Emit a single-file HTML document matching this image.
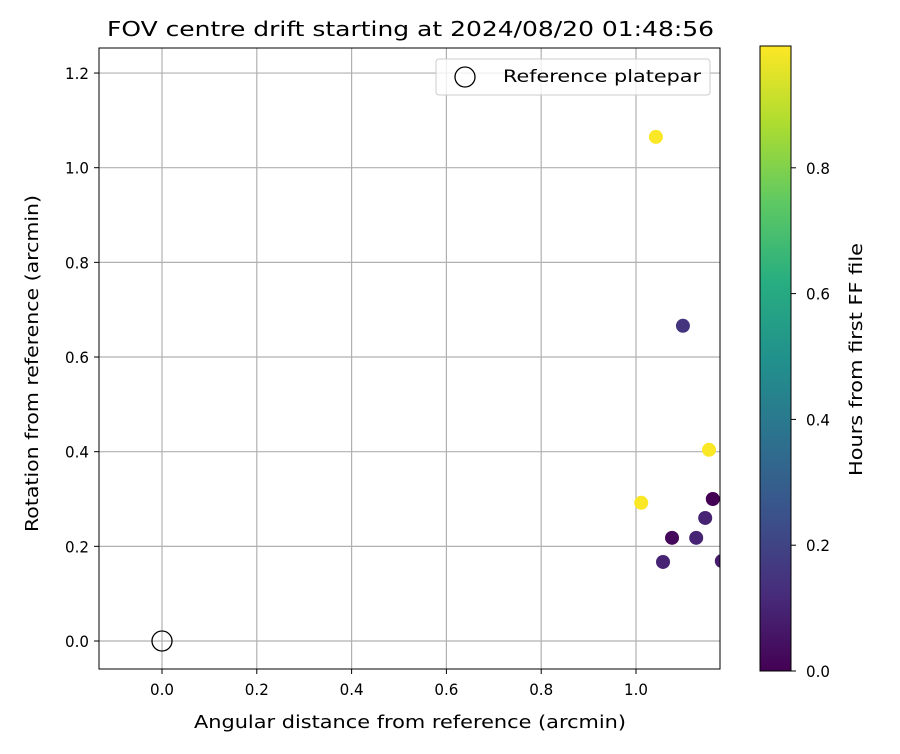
<!DOCTYPE html>
<html><head><meta charset="utf-8"><style>
body{margin:0;background:#fff;font-family:"DejaVu Sans","Liberation Sans",sans-serif}
</style></head><body>
<svg id="chart" width="900" height="750" xmlns="http://www.w3.org/2000/svg" font-family="DejaVu Sans, Liberation Sans, sans-serif">
<defs>
<linearGradient id="vir" x1="0" y1="1" x2="0" y2="0">
<stop offset="0" stop-color="#440154"/><stop offset="0.125" stop-color="#472d7b"/><stop offset="0.25" stop-color="#3b528b"/><stop offset="0.375" stop-color="#2c728e"/><stop offset="0.5" stop-color="#21918c"/><stop offset="0.625" stop-color="#28ae80"/><stop offset="0.75" stop-color="#5ec962"/><stop offset="0.875" stop-color="#addc30"/><stop offset="1" stop-color="#fde725"/>
</linearGradient>
<clipPath id="pc"><rect x="99" y="48" width="621" height="621"/></clipPath>
</defs>
<text x="107" y="36" font-size="20" textLength="607" lengthAdjust="spacingAndGlyphs">FOV centre drift starting at 2024/08/20 01:48:56</text>
<g id="grid"></g>
<g id="points" clip-path="url(#pc)"></g>
<rect x="99" y="48" width="621" height="621" fill="none" stroke="#000" stroke-width="1"/>
<g id="ticks" font-size="16"></g>
<text x="194" y="728" font-size="18" textLength="432" lengthAdjust="spacingAndGlyphs">Angular distance from reference (arcmin)</text>
<text transform="translate(38,532) rotate(-90)" font-size="18" textLength="337" lengthAdjust="spacingAndGlyphs">Rotation from reference (arcmin)</text>
<g>
<rect x="436" y="59" width="274" height="36" rx="3" fill="#fff" fill-opacity="0.8" stroke="#ccc"/>
<circle cx="465" cy="77" r="10" fill="none" stroke="#000" stroke-width="1.3"/>
<text x="503" y="82" font-size="17" textLength="198" lengthAdjust="spacingAndGlyphs">Reference platepar</text>
</g>
<rect x="760" y="46" width="31" height="625" fill="url(#vir)" stroke="#000"/>
<g id="cticks" font-size="16"></g>
<text transform="translate(862,476) rotate(-90)" font-size="18" textLength="233" lengthAdjust="spacingAndGlyphs">Hours from first FF file</text>
</svg>
<script>
const xs=[1.042,1.099,1.154,1.011,1.162,1.146,1.076,1.127,1.057,1.181];
const ys=[1.065,0.666,0.404,0.292,0.300,0.260,0.218,0.218,0.167,0.169];
const hours=[0.99,0.15,0.99,0.99,0.0,0.1,0.02,0.1,0.1,0.08];
const xTicks=["0.0","0.2","0.4","0.6","0.8","1.0"];
const yTicks=["0.0","0.2","0.4","0.6","0.8","1.0","1.2"];
const cTicks=["0.0","0.2","0.4","0.6","0.8"];
const NS="http://www.w3.org/2000/svg";
const X=v=>162+v*474, Y=v=>641-v*473.3, C=v=>671-v*629;
const vs=[[68,1,84],[71,45,123],[59,82,139],[44,114,142],[33,145,140],[40,174,128],[94,201,98],[173,220,48],[253,231,37]];
function vir(t){t=Math.max(0,Math.min(1,t/0.994))*8;const i=Math.min(7,Math.floor(t)),f=t-i;const a=vs[i],b=vs[i+1];return `rgb(${a.map((c,k)=>Math.round(c+(b[k]-c)*f)).join(',')})`;}
function mk(tag,at,par){const e=document.createElementNS(NS,tag);for(const k in at)e.setAttribute(k,at[k]);document.getElementById(par).appendChild(e);return e;}
xTicks.forEach(t=>{const x=X(+t);
 const g=mk('line',{x1:x,x2:x,y1:48,y2:669,stroke:'#b0b0b0','stroke-width':1.2},'grid');
 
 
 mk('line',{x1:x,x2:x,y1:669,y2:674,stroke:'#000'},'ticks');
 const l=mk('text',{x:x-12,y:695,textLength:24,lengthAdjust:'spacingAndGlyphs'},'ticks');l.textContent=t;
 
 });
yTicks.forEach(t=>{const y=Y(+t);
 const g=mk('line',{x1:99,x2:720,y1:y,y2:y,stroke:'#b0b0b0','stroke-width':1.2},'grid');
 
 
 mk('line',{x1:94,x2:99,y1:y,y2:y,stroke:'#000'},'ticks');
 const l=mk('text',{x:65,y:y+6,textLength:24,lengthAdjust:'spacingAndGlyphs'},'ticks');l.textContent=t;
 
 });
cTicks.forEach(t=>{const y=C(+t);
 mk('line',{x1:791,x2:796,y1:y,y2:y,stroke:'#000'},'cticks');
 const l=mk('text',{x:806,y:y+6,textLength:24,lengthAdjust:'spacingAndGlyphs'},'cticks');l.textContent=t;
 
 });
xs.forEach((v,i)=>{const c=mk('circle',{cx:X(v),cy:Y(ys[i]),r:7,fill:vir(hours[i])},'points');
 
 });
const r=mk('circle',{cx:X(0),cy:Y(0),r:10,fill:'none',stroke:'#000','stroke-width':1.3},'points');


</script>
</body></html>
